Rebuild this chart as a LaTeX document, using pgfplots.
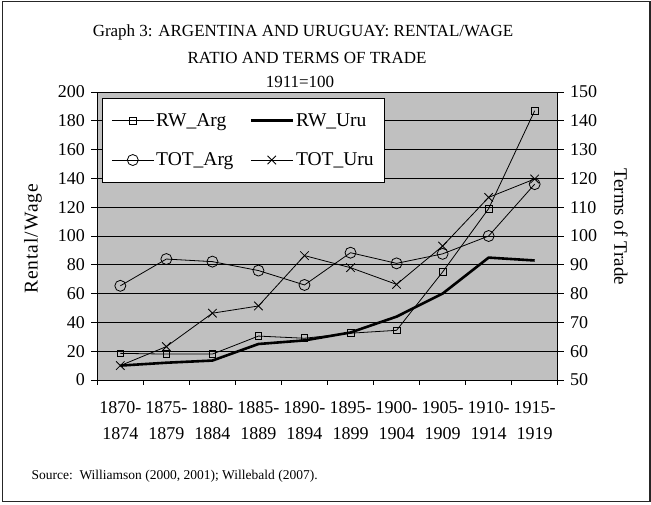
\documentclass[border=0pt]{standalone}
\usepackage{pgfplots}
\pgfplotsset{compat=1.18}
\usepackage{fontspec}
\setmainfont{Liberation Serif}
\definecolor{plotgray}{RGB}{192,192,192}
\newcommand\tkfont{\fontsize{18}{26}\selectfont}
\begin{document}
\begin{tikzpicture}
\useasboundingbox (-97.3pt,-124pt) rectangle (553.7pt,380pt);
\draw[line width=1.4pt, black!85] (-94.6pt,-121.7pt) rectangle (552.7pt,378.3pt);
\node[font=\fontsize{17}{20}\selectfont] at (205.7pt,348pt) {Graph 3: ARGENTINA AND URUGUAY: RENTAL/WAGE};
\node[font=\fontsize{17}{20}\selectfont] at (209.7pt,322pt) {RATIO AND TERMS OF TRADE};
\node[font=\fontsize{17}{20}\selectfont] at (202.7pt,298pt) {1911=100};
\node[font=\fontsize{13.5}{16}\selectfont, anchor=west] at (-69.3pt,-96pt) {Source:\ \ Williamson (2000, 2001); Willebald (2007).};

\begin{axis}[
  scale only axis,
  width=460.4pt, height=288pt,
  xmin=-0.5, xmax=9.5, ymin=0, ymax=200,
  axis x line*=bottom, axis y line*=left,
  axis line style={black, line width=0.9pt},
  axis background/.style={fill=plotgray},
  xtick={0,...,9},
  xticklabels={{1870-\\1874},{1875-\\1879},{1880-\\1884},{1885-\\1889},{1890-\\1894},{1895-\\1899},{1900-\\1904},{1905-\\1909},{1910-\\1914},{1915-\\1919}},
  major x tick style={draw=none},
  minor xtick={-0.5,0.5,...,9.5},
  minor tick length=4.5pt,
  xticklabel style={align=center, font=\tkfont, yshift=-12pt},
  ytick={0,20,...,200},
  major tick length=6pt,
  tick align=outside,
  tick style={black, line width=0.9pt},
  ymajorgrids,
  grid style={black, line width=0.8pt},
  yticklabel style={font=\tkfont, xshift=-3pt},
  /pgf/number format/assume math mode=true,
  every axis y label/.style={at={(axis description cs:-0.1397,0.49)}, rotate=90, anchor=center},
  ylabel={Rental/Wage},
  ylabel style={font=\fontsize{19.5}{22}\selectfont\addfontfeature{LetterSpace=5}},
  clip=false,
]
\addplot[black, line width=0.8pt, mark=square, mark size=3.4pt, mark options={solid, line width=0.8pt}]
  coordinates {(0,18.5) (1,18) (2,18) (3,30.5) (4,29) (5,32.5) (6,34.5) (7,75) (8,119) (9,187)};
\addplot[black, line width=2.6pt, no marks]
  coordinates {(0,10) (1,12) (2,13.5) (3,25) (4,27.5) (5,33) (6,44) (7,60) (8,85) (9,83)};
\end{axis}

\begin{axis}[
  scale only axis,
  width=460.4pt, height=288pt,
  xmin=-0.5, xmax=9.5, ymin=50, ymax=150,
  axis x line=none, axis y line*=right,
  axis line style={black, line width=0.9pt},
  ytick={50,60,...,150},
  tick align=center, major tick length=11.7pt,
  tick style={black, line width=0.9pt},
  yticklabel style={font=\tkfont, xshift=3pt},
  /pgf/number format/assume math mode=true,
  every axis y label/.style={at={(axis description cs:1.1375,0.531)}, rotate=-90, anchor=center},
  ylabel={Terms of Trade},
  ylabel style={font=\fontsize{19}{22}\selectfont},
  legend columns=2,
  legend cell align=left,
  legend style={at={(rel axis cs:0.0102,0.979)}, anchor=north west, draw=black, fill=white, line width=0.8pt,
    font=\fontsize{19.5}{22}\selectfont, inner xsep=9pt, inner ysep=13pt,
    row sep=21pt,
    /tikz/every even column/.append style={column sep=14pt}},
  legend image code/.code={\draw[mark repeat=2,mark phase=2,#1] plot coordinates {(0pt,0pt) (21pt,0pt) (42pt,0pt)};},
  clip=false,
]
\addlegendimage{black, line width=0.8pt, mark=square, mark size=3.4pt, mark options={solid, line width=0.8pt}}
\addlegendentry{RW\_Arg}
\addlegendimage{black, line width=2.6pt, no marks}
\addlegendentry{RW\_Uru}
\addplot[black, line width=0.8pt, mark=o, mark size=5.5pt, mark options={solid, line width=0.8pt}]
  coordinates {(0,82.7) (1,92) (2,91.1) (3,88) (4,83) (5,94.2) (6,90.5) (7,93.8) (8,100) (9,118)};
\addlegendentry{TOT\_Arg}
\addplot[black, line width=0.8pt, mark=x, mark size=6pt, mark options={solid, line width=0.8pt}]
  coordinates {(0,55) (1,61.6) (2,73.2) (3,75.7) (4,93.2) (5,89) (6,83.2) (7,96.5) (8,113.4) (9,119.8)};
\addlegendentry{TOT\_Uru}
\end{axis}
\end{tikzpicture}
\end{document}
